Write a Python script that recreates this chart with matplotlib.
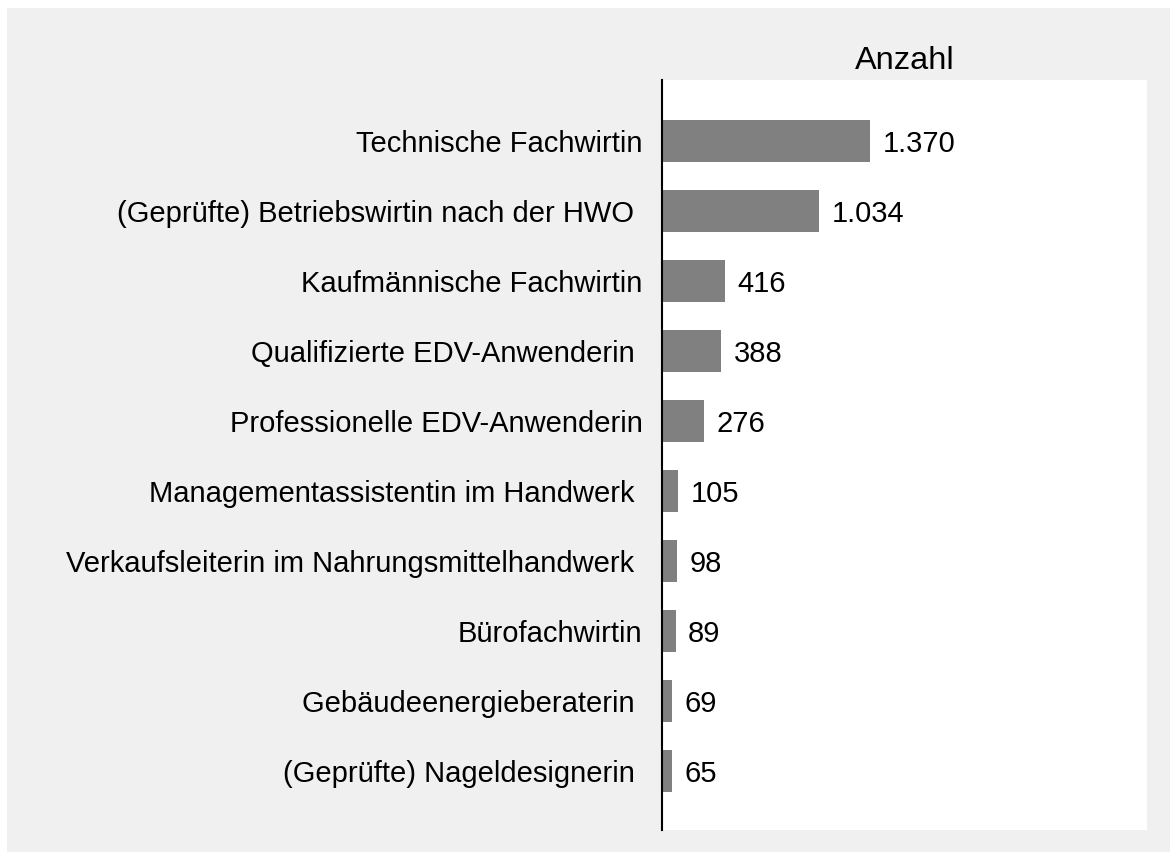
import matplotlib
matplotlib.use("Agg")
import matplotlib.pyplot as plt
from matplotlib.patches import Rectangle

categories = [
    "Technische Fachwirtin",
    "(Geprüfte) Betriebswirtin nach der HWO ",
    "Kaufmännische Fachwirtin",
    "Qualifizierte EDV-Anwenderin ",
    "Professionelle EDV-Anwenderin",
    "Managementassistentin im Handwerk ",
    "Verkaufsleiterin im Nahrungsmittelhandwerk ",
    "Bürofachwirtin",
    "Gebäudeenergieberaterin ",
    "(Geprüfte) Nageldesignerin ",
]
values = [1370, 1034, 416, 388, 276, 105, 98, 89, 69, 65]
title = "Anzahl"

plt.rcParams['font.family'] = ['Liberation Sans', 'DejaVu Sans']

W, H = 1170, 852
fig = plt.figure(figsize=(W / 100, H / 100), dpi=100)
fig.patch.set_facecolor("white")
fig.patches.append(Rectangle((7 / W, 0), 1 - 7 / W, 1 - 8 / H, transform=fig.transFigure,
                             facecolor="#f0f0f0", edgecolor="none", zorder=-10))

left, right, top, bottom = 662, 1147, 80, 830
ax = fig.add_axes([left / W, 1 - bottom / H, (right - left) / W, (bottom - top) / H])
ax.set_facecolor("white")

fs = 21.0
y = list(range(len(categories)))
ax.barh(y, values, height=0.6, color="#808080")
ax.set_xlim(0, 3195)
ax.set_ylim(9 + 59 / 70, -61 / 70)

ax.set_yticks(y)
ax.set_yticklabels(categories, fontsize=fs, va="center_baseline")
ax.tick_params(axis="y", length=0, pad=14)
ax.set_xticks([])

for yi, v in zip(y, values):
    s = f"{v:,}".replace(",", ".")
    ax.annotate(s, (v, yi), xytext=(9, 0), textcoords="offset points",
                va="center_baseline", ha="left", fontsize=fs)

for side in ["top", "right", "bottom"]:
    ax.spines[side].set_visible(False)
ax.spines["left"].set_linewidth(1.5)
ax.spines["left"].set_color("black")

ax.set_title(title, fontsize=23.4, pad=8)

fig.savefig("out.png", dpi=100)
